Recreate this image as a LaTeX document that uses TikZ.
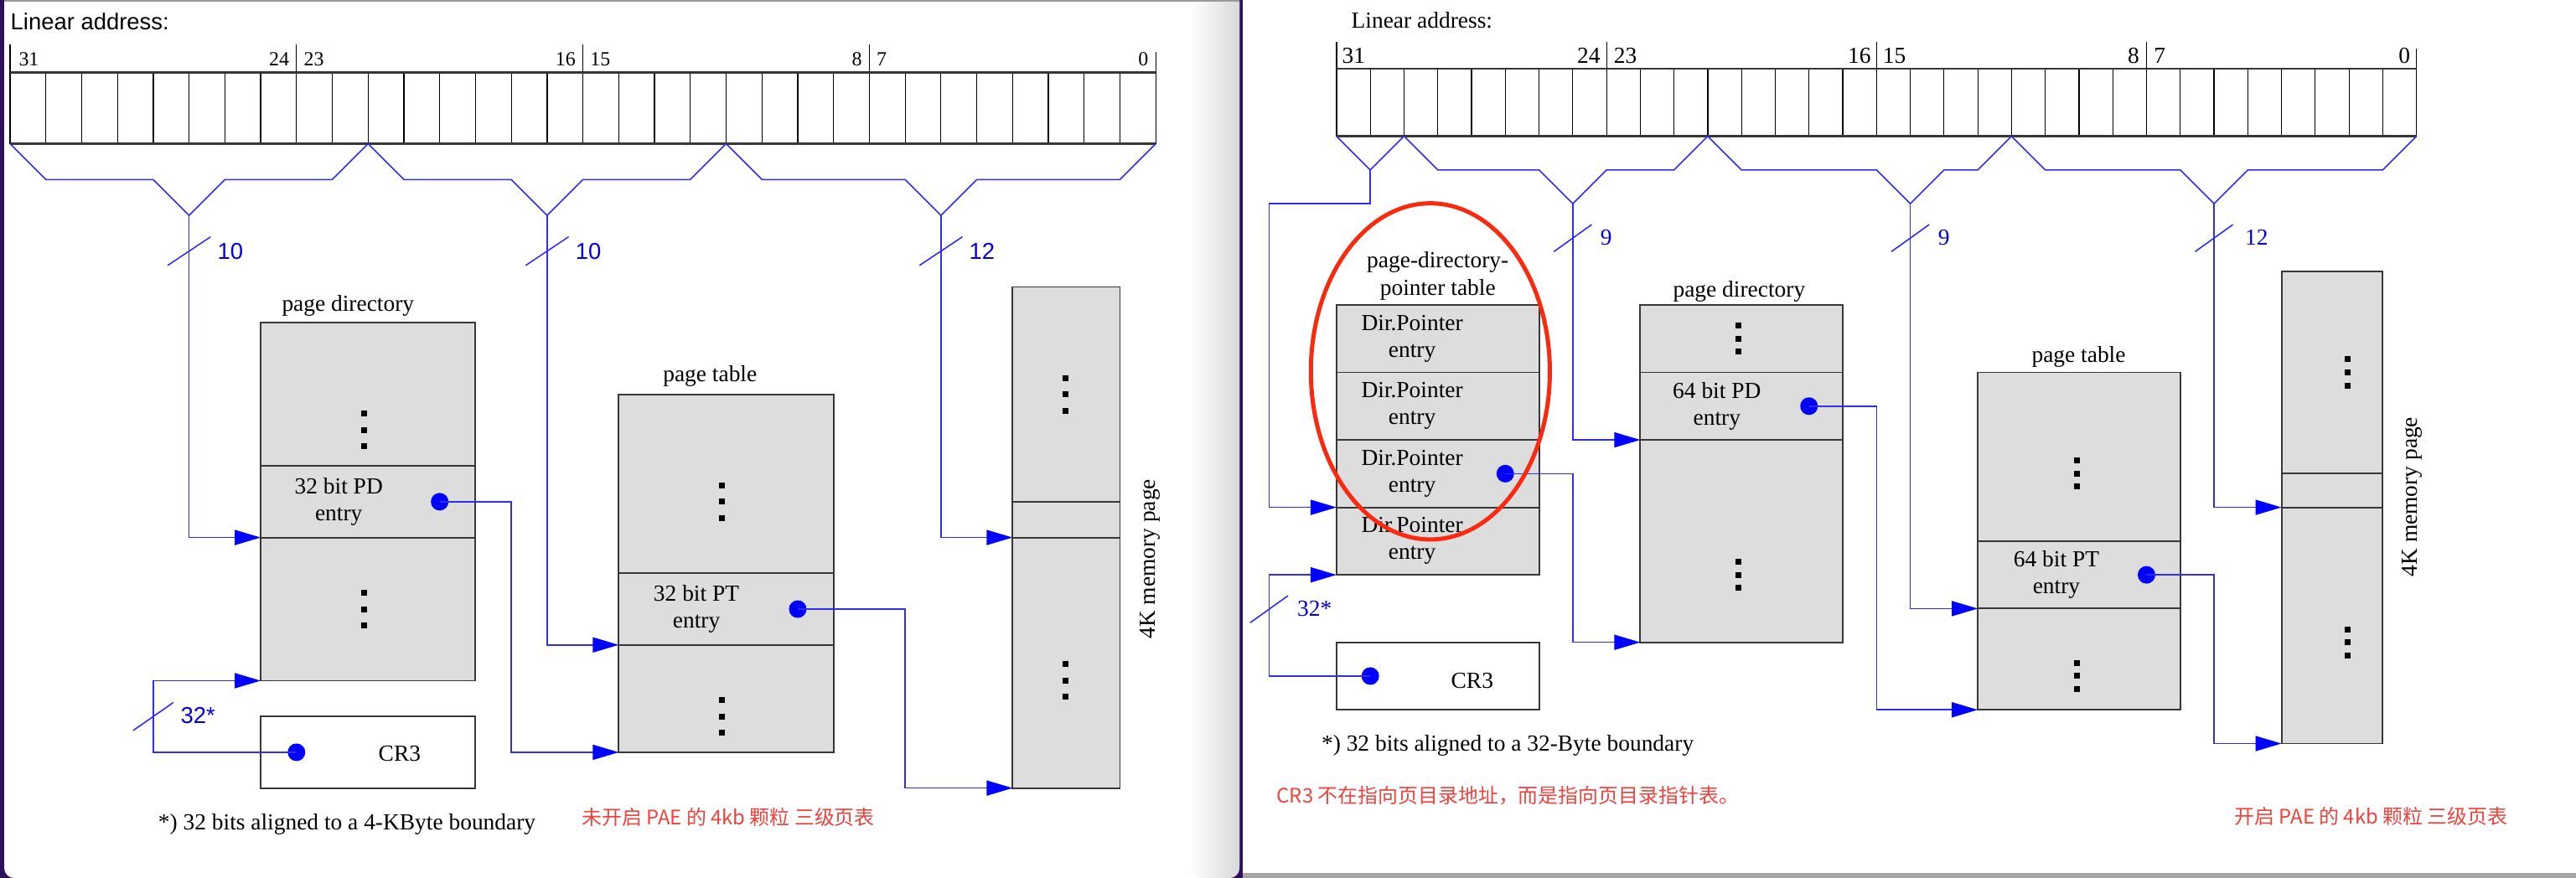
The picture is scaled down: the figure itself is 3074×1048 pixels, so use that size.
\documentclass[tikz,border=0pt]{standalone}
\usepackage{fontspec}
\setmainfont{Liberation Serif}
\setsansfont{Liberation Sans}
\newfontfamily\cjk{Noto Sans CJK SC}
\usetikzlibrary{positioning,arrows.meta}

\definecolor{wireblue}{RGB}{45,45,245}
\definecolor{dotblue}{RGB}{0,0,255}
\definecolor{boxgray}{RGB}{221,221,221}
\definecolor{edgegray}{RGB}{55,55,55}
\definecolor{notered}{RGB}{238,66,60}
\definecolor{ringred}{RGB}{248,42,16}
\definecolor{winpurple}{RGB}{46,16,92}

\newcommand{\lblsize}{\fontsize{7.8pt}{9.1pt}\selectfont}
\newcommand{\bitsize}{\fontsize{6.8pt}{8pt}\selectfont}

\tikzset{
  sect/.style={draw=edgegray, line width=0.55pt, fill=boxgray, outer sep=0pt, inner sep=0pt},
  sz/.style 2 args={minimum width={#1*\gu}, minimum height={#2*\gu}},
  lbl/.style={font=\lblsize, inner sep=0pt},
  etxt/.style={lbl, align=center},
  bitn/.style={inner sep=0pt},
  wire/.style={draw=wireblue, line width=0.45pt},
  conn/.style={wire, -{Triangle[length=0.31cm,width=0.18cm,color=dotblue]}},
  bdot/.style={circle, fill=dotblue, minimum size=0.21cm, inner sep=0pt},
  bnum/.style={text=dotblue!88!black, inner sep=0pt},
  redtxt/.style={font=\cjk\fontsize{6.8pt}{8pt}\selectfont, text=notered, inner sep=0pt},
  pics/vdts/.style={code={
    \foreach \k in {-1,0,1}
      \fill (-0.035cm,{\k*#1-0.035cm}) rectangle ++(0.07cm,0.07cm);
  }},
}

\begin{document}
\begin{tikzpicture}[x=0.01cm, y=-0.01cm]
  \useasboundingbox (0,0) rectangle (3074,1048);
  % window frame
  \fill[winpurple] (0,0) rectangle (1483,1048);
  \fill[white, rounded corners=0.12cm] (5,-30) rectangle (1479,1048);
  \shade[left color=white, right color=gray!30, rounded corners=0.12cm] (1420,-30) rectangle (1479,1048);
  \draw[gray!80, line width=0.6pt] (5,0.6) -- (1479,0.6);
  \fill[gray!70] (1483,1042) rectangle (3074,1048);

  \node[font=\sffamily\lblsize, anchor=base west, inner sep=0pt] (laL) at (12,35) {Linear address:};
  \node[lbl, anchor=base west] (laR) at (1612,33) {Linear address:};
  \node[redtxt] (tagL) at (869,975) {未开启 PAE 的 4kb 颗粒 三级页表};
  \node[redtxt, anchor=west] (tagR1) at (1523,950) {CR3 不在指向页目录地址，而是指向页目录指针表。};
  \node[redtxt] (tagR2) at (2829.5,974) {开启 PAE 的 4kb 颗粒 三级页表};

  % without PAE
  \begin{scope}[xshift=0.12cm, yshift=-0.007cm, x=0.427cm, y=-0.427cm]
    \def\gu{0.427cm}
    \foreach \i in {1,...,31} \draw[black, line width=0.35pt] (\i,2) -- (\i,4);
    \draw[black, line width=0.35pt] (0,2) rectangle (32,4);
    \draw[edgegray, line width=0.8pt] (0,2) -- (32,2) (0,4) -- (32,4);
    \foreach \x in {0,8,16,24} \draw[black, line width=0.35pt] (\x,1.22) -- (\x,2);
    \draw[black, line width=0.35pt] (32,1.44) -- (32,2);
    \foreach \n/\x/\an in {31/0.23/west,24/7.81/east,23/8.19/west,16/15.81/east,15/16.19/west,8/23.81/east,7/24.19/west,0/31.81/east}
      \node[bitn, font=\bitsize, anchor=base \an] (bL\n) at (\x,1.81) {\n};
    \foreach \sa/\tp/\ea in {0/5/10,10/15/20,20/26/32} {
      \draw[wire] (\sa,4) -- (\sa+1,5) -- (\tp-1,5) -- (\tp,6) -- (\tp+1,5) -- (\ea-1,5) -- (\ea,4);
      \coordinate (tL\tp) at (\tp,6);
    }
    \foreach \tp/\n in {5/10,15/10,26/12} {
      \draw[wire] (\tp-0.6,7.4) -- (\tp+0.6,6.6);
      \node[bnum, font=\sffamily\lblsize] (wL\tp) at (\tp+1.15,7) {\n};
    }

    \node[sect, sz={6}{4}] (pdTop) at (10,11) {};
    \node[sect, sz={6}{2}, below=0pt of pdTop] (pdE) {};
    \node[sect, sz={6}{4}, below=0pt of pdE] (pdBot) {};
    \node[sect, sz={6}{2}, fill=white] (cr3) at (10,21) {};
    \node[sect, sz={6}{5}] (ptTop) at (20,13.5) {};
    \node[sect, sz={6}{2}, below=0pt of ptTop] (ptE) {};
    \node[sect, sz={6}{3}, below=0pt of ptE] (ptBot) {};
    \node[sect, sz={3}{6}] (memTop) at (29.5,11) {};
    \node[sect, sz={3}{1}, below=0pt of memTop] (memE) {};
    \node[sect, sz={3}{7}, below=0pt of memE] (memBot) {};

    \node[lbl, anchor=base] (pdL) at (9.44,8.69) {page directory};
    \node[lbl, anchor=base] (ptL) at (19.55,10.65) {page table};
    \node[lbl, rotate=90] (memL) at (31.83,15.6) {4K memory page};
    \node[etxt] (pdEt) at (9.18,14) {32 bit PD\\entry};
    \node[etxt] (ptEt) at (19.17,17) {32 bit PT\\entry};
    \node[lbl] (cr3t) at (10.88,21.04) {CR3};
    \foreach \x/\y in {9.9/12,9.9/17,19.88/14,19.88/20,29.47/11,29.47/19}
      \pic at (\x,\y) {vdts=0.195cm};

    \node[bdot] (pdDot) at (12,14) {};
    \node[bdot] (ptDot) at (22,17) {};
    \node[bdot] (crDot) at (8,21) {};
    \draw[conn] (tL5) |- (pdE.south west);
    \draw[conn] (tL15) |- (ptE.south west);
    \draw[conn] (tL26) |- (memE.south west);
    \draw[conn] (pdDot.center) -- ++(2,0) |- (ptBot.south west);
    \draw[conn] (ptDot.center) -- ++(3,0) |- (memBot.south west);
    \draw[conn] (crDot.center) -- ++(-4,0) |- (pdBot.south west);
    \draw[wire] (3.44,20.39) -- (4.56,19.61);
    \node[bnum, font=\sffamily\lblsize] (wLcr) at (5.25,19.98) {32*};
    \node[lbl, anchor=base] (noteL) at (9.41,23.16) {*) 32 bits aligned to a 4-KByte boundary};
  \end{scope}

  % with PAE
  \begin{scope}[xshift=15.94cm, yshift=-0.015cm, x=0.4025cm, y=-0.4025cm]
    \def\gu{0.4025cm}
    \foreach \i in {1,...,31} \draw[black, line width=0.35pt] (\i,2) -- (\i,4);
    \draw[black, line width=0.35pt] (0,2) rectangle (32,4);
    \draw[edgegray, line width=0.8pt] (0,2) -- (32,2) (0,4) -- (32,4);
    \foreach \x in {0,8,16,24} \draw[black, line width=0.35pt] (\x,1.2) -- (\x,2);
    \draw[black, line width=0.35pt] (32,1.4) -- (32,2);
    \foreach \n/\x/\an in {31/0.15/west,24/7.83/east,23/8.2/west,16/15.85/east,15/16.17/west,8/23.8/east,7/24.2/west,0/31.83/east}
      \node[bitn, font=\lblsize, anchor=base \an] (bR\n) at (\x,1.83) {\n};
    \draw[wire] (0,4) -- (1,5) -- (2,4);
    \coordinate (tR1) at (1,5);
    \foreach \sa/\tp/\ea in {2/7/11,11/17/20,20/26/32} {
      \draw[wire] (\sa,4) -- (\sa+1,5) -- (\tp-1,5) -- (\tp,6) -- (\tp+1,5) -- (\ea-1,5) -- (\ea,4);
      \coordinate (tR\tp) at (\tp,6);
    }
    \foreach \tp/\n/\o in {7/9/0.99,17/9/1.0,26/12/1.26} {
      \draw[wire] (\tp-0.56,7.42) -- (\tp+0.56,6.62);
      \node[bnum, font=\lblsize] (wR\tp) at (\tp+\o,7) {\n};
    }

    \node[sect, sz={6}{2}] (dp1) at (3,10) {};
    \node[sect, sz={6}{2}, below=0pt of dp1] (dp2) {};
    \node[sect, sz={6}{2}, below=0pt of dp2] (dp3) {};
    \node[sect, sz={6}{2}, below=0pt of dp3] (dp4) {};
    \node[sect, sz={6}{2}, fill=white] (cr3R) at (3,20) {};
    \node[sect, sz={6}{2}] (pdTopR) at (12,10) {};
    \node[sect, sz={6}{2}, below=0pt of pdTopR] (pdER) {};
    \node[sect, sz={6}{6}, below=0pt of pdER] (pdBotR) {};
    \node[sect, sz={6}{5}] (ptTopR) at (22,13.5) {};
    \node[sect, sz={6}{2}, below=0pt of ptTopR] (ptER) {};
    \node[sect, sz={6}{3}, below=0pt of ptER] (ptBotR) {};
    \node[sect, sz={3}{6}] (memTopR) at (29.5,11) {};
    \node[sect, sz={3}{1}, below=0pt of memTopR] (memER) {};
    \node[sect, sz={3}{7}, below=0pt of memER] (memBotR) {};

    \node[lbl, anchor=base] (dpL1) at (3,7.89) {page-directory-};
    \node[lbl, anchor=base] (dpL2) at (3,8.71) {pointer table};
    \node[lbl, anchor=base] (pdLR) at (11.93,8.76) {page directory};
    \node[lbl, anchor=base] (ptLR) at (21.99,10.7) {page table};
    \node[lbl, rotate=90] (memLR) at (31.88,14.69) {4K memory page};
    \foreach \r in {1,...,4}
      \node[etxt] (dpt\r) at (2.24,8+2*\r) {Dir.Pointer\\entry};
    \node[etxt] (pdEtR) at (11.27,12) {64 bit PD\\entry};
    \node[etxt] (ptEtR) at (21.33,17) {64 bit PT\\entry};
    \node[lbl] (cr3tR) at (4.02,20.14) {CR3};
    \foreach \x/\y in {11.9/10,11.9/17,21.94/14,21.94/20,29.95/11,29.95/19}
      \pic at (\x,\y) {vdts=0.156cm};

    \node[bdot] (dpDot) at (5,14) {};
    \node[bdot] (pdDotR) at (14,12) {};
    \node[bdot] (ptDotR) at (24,17) {};
    \node[bdot] (crDotR) at (1,20) {};
    \draw[conn] (tR1) -- ++(0,1) -- ++(-3,0) |- (dp3.south west);
    \draw[conn] (tR7) |- (pdER.south west);
    \draw[conn] (tR17) |- (ptER.south west);
    \draw[conn] (tR26) |- (memER.south west);
    \draw[conn] (dpDot.center) -- ++(2,0) |- (pdBotR.south west);
    \draw[conn] (pdDotR.center) -- ++(2,0) |- (ptBotR.south west);
    \draw[conn] (ptDotR.center) -- ++(2,0) |- (memBotR.south west);
    \draw[conn] (crDotR.center) -- ++(-3,0) |- (dp4.south west);
    \draw[wire] (-2.56,18.42) -- (-1.44,17.62);
    \node[bnum, font=\lblsize] (wRcr) at (-0.65,18) {32*};
    \node[lbl, anchor=base] (noteR) at (5.07,22.22) {*) 32 bits aligned to a 32-Byte boundary};
    % highlight
    \draw[ringred, line width=0.05cm] (2.78,10.97) ellipse [x radius=1.425cm, y radius=2.005cm];
  \end{scope}
\end{tikzpicture}
\end{document}
